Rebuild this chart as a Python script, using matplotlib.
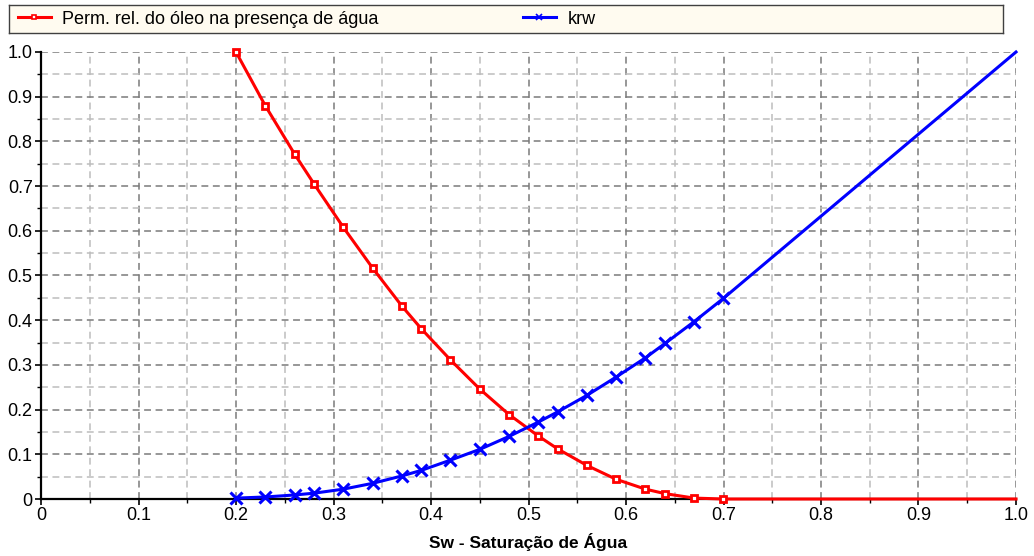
import matplotlib.pyplot as plt
from matplotlib.lines import Line2D
from matplotlib.ticker import MultipleLocator, FuncFormatter

plt.rcParams['font.family'] = ['Liberation Sans', 'DejaVu Sans']

# Saturação de água e permeabilidades relativas
sw = [0.20, 0.23, 0.26, 0.28, 0.31, 0.34, 0.37, 0.39, 0.42, 0.45,
      0.48, 0.51, 0.53, 0.56, 0.59, 0.62, 0.64, 0.67, 0.70, 1.00]
kro = [1.000, 0.880, 0.772, 0.705, 0.608, 0.517, 0.432, 0.381, 0.311, 0.246,
       0.189, 0.141, 0.112, 0.075, 0.044, 0.022, 0.012, 0.002, 0.000, 0.000]
krw = [0.002, 0.0045, 0.009, 0.013, 0.022, 0.035, 0.0515, 0.064, 0.087, 0.111,
       0.140, 0.172, 0.195, 0.232, 0.273, 0.316, 0.348, 0.397, 0.449, 1.000]

label_kro = "Perm. rel. do óleo na presença de água"
label_krw = "krw"

fig = plt.figure(figsize=(10.34, 5.56), dpi=100)
ax = fig.add_axes([41 / 1034, 1 - 499 / 556, 975 / 1034, 447 / 556])

ax.plot(sw, kro, color="red", lw=2.2, marker="s", ms=5, mew=2.0,
        mfc="white", mec="red", markevery=range(len(sw) - 1),
        zorder=5, clip_on=False)
ax.plot(sw, krw, color="blue", lw=2.2, marker="x", ms=9, mew=2.2,
        markevery=range(len(sw) - 1), zorder=5, clip_on=False)

ax.set_xlim(0, 1.0)
ax.set_ylim(0, 1.0)
ax.xaxis.set_major_locator(MultipleLocator(0.1))
ax.xaxis.set_minor_locator(MultipleLocator(0.05))
ax.yaxis.set_major_locator(MultipleLocator(0.1))
ax.yaxis.set_minor_locator(MultipleLocator(0.05))
fmt = FuncFormatter(lambda v, p: "0" if abs(v) < 1e-9 else f"{v:.1f}")
ax.xaxis.set_major_formatter(fmt)
ax.yaxis.set_major_formatter(fmt)

ax.grid(which="major", color="#7a7a7a", ls=(0, (4.5, 3)), lw=1.1)
ax.grid(which="minor", color="#bdbdbd", ls=(0, (4.5, 3)), lw=1.1)
ax.set_axisbelow(True)

for side in ("top", "right"):
    ax.spines[side].set_visible(False)
for side in ("left", "bottom"):
    ax.spines[side].set_linewidth(1.6)
    ax.spines[side].set_zorder(4)

ax.tick_params(which="major", length=4, width=1.2, labelsize=13, pad=2)
ax.tick_params(which="minor", length=3, width=1.0)
ax.set_xlabel("Sw - Saturação de Água", fontsize=12.5, fontweight="bold", labelpad=6)

# Legenda em faixa no topo
lax = fig.add_axes([9 / 1034, 1 - 33 / 556, 994 / 1034, 28 / 556])
lax.set_facecolor("#fffbf0")
lax.set_xticks([])
lax.set_yticks([])
for s in lax.spines.values():
    s.set_color("#404040")
    s.set_linewidth(1.0)
handles = [
    Line2D([], [], color="red", lw=2.2, marker="s", ms=3.5, mew=1.2, mfc="white", mec="red"),
    Line2D([], [], color="blue", lw=2.2, marker="x", ms=5, mew=1.2),
]
lax.legend(handles, [label_kro, label_krw], ncol=2, loc="center left",
           frameon=False, fontsize=13, handlelength=1.8, handletextpad=0.65,
           columnspacing=8.0, borderaxespad=0.1)

fig.savefig("out.png", dpi=100)
